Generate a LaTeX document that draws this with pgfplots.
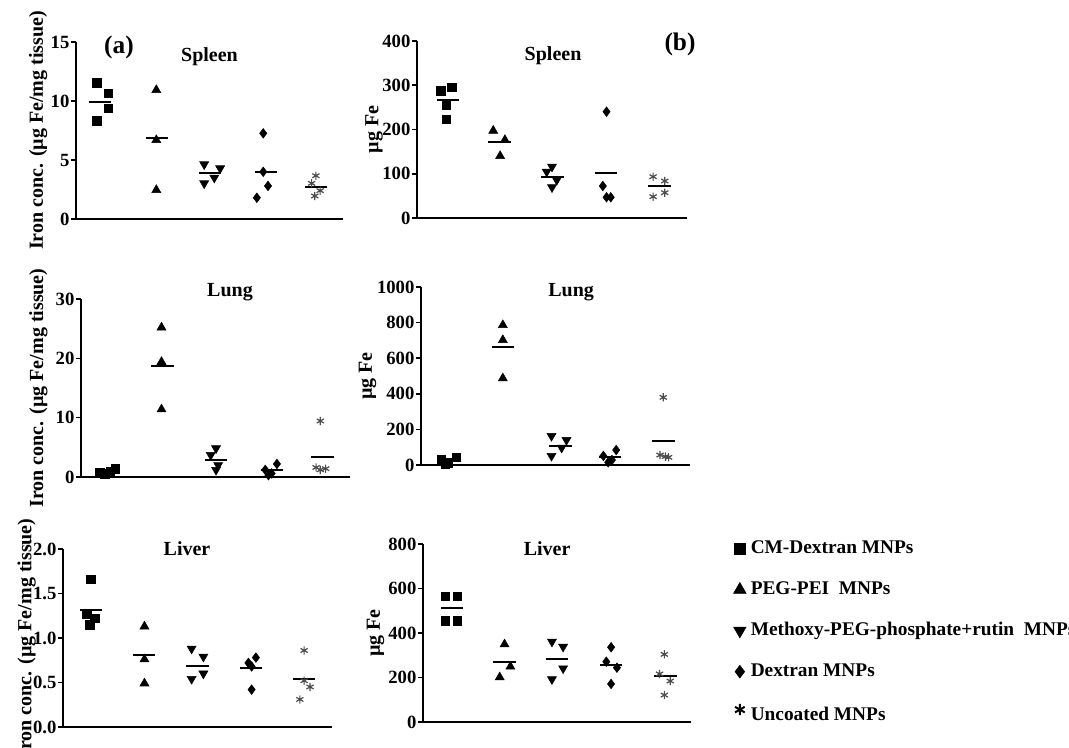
\documentclass[border=0pt]{standalone}
\usepackage{fontspec}
\setmainfont{Liberation Serif}
\usepackage{pgfplots}
\pgfplotsset{compat=1.18}
\pgfplotsset{
  myleg/.style={legend image code/.code={\draw[mark repeat=2,mark phase=2,##1,mark size=#1] plot coordinates {(0cm,0cm)(0.24cm,0cm)(0.48cm,0cm)};}},
  aslegend/.style={legend image code/.code={\draw[mark repeat=2,mark phase=2,##1,black,mark size=4.2pt,mark options={line width=1.5pt}] plot coordinates {(0cm,5pt)(0.24cm,5pt)(0.48cm,5pt)};}},
  sq/.style={only marks, mark=square*, mark size=3.2pt, black, myleg=3.9pt},
  tu/.style={only marks, mark=triangle*, mark size=3.9pt, black, myleg=5.4pt},
  td/.style={only marks, mark=triangle*, mark size=3.9pt, mark options={rotate=180}, black, myleg=5.4pt},
  dm/.style={only marks, mark=diamond*, mark size=3.6pt, black, myleg=4.8pt},
  as/.style={only marks, mark=asterisk, mark size=3.1pt, black!70, mark options={line width=0.9pt}, aslegend},
  mn/.style={black, line width=1.4pt, no marks, forget plot},
  panel/.style={
    scale only axis, clip=false, anchor=south west,
    axis lines=left, axis line style={-, line width=1.6pt},
    xtick=\empty, ytick pos=left, tick align=outside, major tick length=3.75pt,
    tick style={black, line width=1.2pt},
    tick label style={font=\bfseries\fontsize{14}{16}\selectfont},
    yticklabel style={inner xsep=1pt},
    /pgf/number format/assume math mode=true,
    /pgf/number format/1000 sep={},
    ylabel style={font=\bfseries\fontsize{15}{17}\selectfont, anchor=center},
    every axis title shift=0pt,
    title style={font=\bfseries\fontsize{15}{17}\selectfont, anchor=center, yshift=0pt},
    ymin=0,
  },
}
\begin{document}
\begin{tikzpicture}
\path[use as bounding box] (0,0) rectangle (801.75pt,561pt);

% ---------------- Spleen (a)
\begin{axis}[panel, at={(57pt,396.75pt)}, width=200.25pt, height=132.75pt,
  xmin=0.51, xmax=5.53, ymax=15, ytick={0,5,10,15},
  ylabel={Iron conc. (µg Fe/mg tissue)}, ylabel style={at={(axis description cs:-0.142,0.5)}},
  title={Spleen}, title style={at={(axis description cs:0.50,0.915)}, anchor=center}]
\addplot[sq] coordinates {(0.90,11.55)(1.12,10.65)(1.12,9.38)(0.90,8.33)};
\addplot[tu] coordinates {(2.02,10.93)(2.02,6.69)(2.02,2.46)};
\addplot[td] coordinates {(2.92,4.63)(3.22,4.29)(3.11,3.50)(2.92,3.02)};
\addplot[dm] coordinates {(4.03,7.26)(4.03,4.00)(4.12,2.80)(3.91,1.80)};
\addplot[as] coordinates {(5.02,3.67)(4.94,3.02)(5.10,2.40)(5.00,1.95)};
\addplot[mn] coordinates {(0.75,9.94)(1.17,9.94)};
\addplot[mn] coordinates {(1.82,6.84)(2.24,6.84)};
\addplot[mn] coordinates {(2.82,3.87)(3.24,3.87)};
\addplot[mn] coordinates {(3.87,3.96)(4.29,3.96)};
\addplot[mn] coordinates {(4.81,2.74)(5.23,2.74)};
\node[font=\bfseries\fontsize{19}{21}\selectfont] at (axis description cs:0.161,0.972) {(a)};
\end{axis}

% ---------------- Spleen (b)
\begin{axis}[panel, at={(312.75pt,397.5pt)}, width=202.5pt, height=132.75pt,
  xmin=0.45, xmax=5.55, ymax=400, ytick={0,100,200,300,400},
  ylabel={µg Fe}, ylabel style={at={(axis description cs:-0.159,0.5)}},
  title={Spleen}, title style={at={(axis description cs:0.504,0.915)}, anchor=center}]
\addplot[sq] coordinates {(0.90,287.7)(1.11,295.3)(1.00,255.4)(1.00,223)};
\addplot[tu] coordinates {(1.89,197.3)(2.11,176.3)(2.02,140.1)};
\addplot[td] coordinates {(3.00,116)(2.90,104.6)(3.09,85.9)(3.00,69.4)};
\addplot[dm] coordinates {(4.03,240.2)(3.96,72.3)(4.03,46.8)(4.11,46.8)};
\addplot[as] coordinates {(4.91,93.3)(5.13,83.6)(4.91,48.2)(5.13,57.2)};
\addplot[mn] coordinates {(0.82,266.7)(1.24,266.7)};
\addplot[mn] coordinates {(1.80,172.4)(2.22,172.4)};
\addplot[mn] coordinates {(2.80,93.3)(3.22,93.3)};
\addplot[mn] coordinates {(3.81,102.4)(4.23,102.4)};
\addplot[mn] coordinates {(4.82,72.3)(5.24,72.3)};
\node[font=\bfseries\fontsize{19}{21}\selectfont] at (axis description cs:0.974,0.983) {(b)};
\end{axis}

% ---------------- Lung (a)
\begin{axis}[panel, at={(60.75pt,203.25pt)}, width=201.75pt, height=133.5pt,
  xmin=0.48, xmax=5.56, ymax=30, ytick={0,10,20,30},
  ylabel={Iron conc. (µg Fe/mg tissue)}, ylabel style={at={(axis description cs:-0.158,0.5)}},
  title={Lung}, title style={at={(axis description cs:0.554,1.04)}, anchor=center}]
\addplot[sq] coordinates {(0.83,0.7)(0.93,0.5)(1.03,1.0)(1.13,1.4)};
\addplot[tu] coordinates {(2.00,25.2)(2.00,19.4)(2.00,11.4)};
\addplot[td] coordinates {(3.03,4.83)(2.93,3.70)(3.07,2.00)(3.03,1.20)};
\addplot[dm] coordinates {(4.18,2.2)(3.96,1.2)(4.08,0.6)(4.02,0.3)};
\addplot[as] coordinates {(5.00,9.44)(4.92,1.6)(5.00,1.2)(5.10,1.4)};
\addplot[mn] coordinates {(0.77,0.9)(1.19,0.9)};
\addplot[mn] coordinates {(1.81,18.76)(2.23,18.76)};
\addplot[mn] coordinates {(2.82,2.87)(3.24,2.87)};
\addplot[mn] coordinates {(3.87,1.2)(4.29,1.2)};
\addplot[mn] coordinates {(4.83,3.42)(5.25,3.42)};
\end{axis}

% ---------------- Lung (b)
\begin{axis}[panel, at={(315.75pt,212.25pt)}, width=201.75pt, height=133.5pt,
  xmin=0.47, xmax=5.50, ymax=1000, ytick={0,200,400,600,800,1000},
  ylabel={µg Fe}, ylabel style={at={(axis description cs:-0.199,0.5)}},
  title={Lung}, title style={at={(axis description cs:0.558,0.972)}, anchor=center}]
\addplot[sq] coordinates {(0.85,28)(1.13,43)(0.98,13)(0.92,5)};
\addplot[tu] coordinates {(2.00,786)(2.00,702)(2.00,487)};
\addplot[td] coordinates {(2.91,163)(3.19,140)(3.10,97)(2.91,51)};
\addplot[dm] coordinates {(4.12,84)(3.88,51)(4.04,28)(3.97,15)};
\addplot[as] coordinates {(5.00,380)(4.94,56)(5.04,47)(5.10,43)};
\addplot[mn] coordinates {(0.79,22)(1.21,22)};
\addplot[mn] coordinates {(1.79,661)(2.21,661)};
\addplot[mn] coordinates {(2.87,108)(3.29,108)};
\addplot[mn] coordinates {(3.79,43)(4.21,43)};
\addplot[mn] coordinates {(4.79,135)(5.21,135)};
\end{axis}

% ---------------- Liver (a)
\begin{axis}[panel, at={(47.25pt,15.75pt)}, width=201.75pt, height=133.5pt,
  xmin=0.48, xmax=5.50, ymax=2, ytick={0,0.5,1,1.5,2},
  yticklabel style={/pgf/number format/.cd, fixed, fixed zerofill, precision=1},
  ylabel={Iron conc. (µg Fe/mg tissue)}, ylabel style={at={(axis description cs:-0.135,0.5)}},
  title={Liver}, title style={at={(axis description cs:0.461,1.0)}, anchor=center}]
\addplot[sq] coordinates {(1.00,1.66)(0.92,1.27)(1.07,1.22)(0.98,1.15)};
\addplot[tu] coordinates {(2.00,1.13)(2.00,0.76)(2.00,0.49)};
\addplot[td] coordinates {(2.88,0.88)(3.10,0.79)(3.10,0.60)(2.88,0.54)};
\addplot[dm] coordinates {(4.08,0.78)(3.94,0.72)(4.00,0.68)(4.00,0.42)};
\addplot[as] coordinates {(4.98,0.86)(4.98,0.52)(5.09,0.45)(4.90,0.31)};
\addplot[mn] coordinates {(0.79,1.31)(1.21,1.31)};
\addplot[mn] coordinates {(1.78,0.81)(2.20,0.81)};
\addplot[mn] coordinates {(2.78,0.69)(3.20,0.69)};
\addplot[mn] coordinates {(3.78,0.66)(4.20,0.66)};
\addplot[mn] coordinates {(4.77,0.54)(5.19,0.54)};
\end{axis}

% ---------------- Liver (b)
\begin{axis}[panel, at={(317.25pt,19.5pt)}, width=201pt, height=133.5pt,
  xmin=0.47, xmax=5.50, ymax=800, ytick={0,200,400,600,800},
  ylabel={µg Fe}, ylabel style={at={(axis description cs:-0.177,0.5)}},
  title={Liver}, title style={at={(axis description cs:0.463,0.972)}, anchor=center},
  legend cell align=left,
  legend style={at={(axis description cs:1.158,1.024)}, anchor=north west, draw=none, fill=none,
    inner sep=0pt, font=\bfseries\fontsize{14.5}{16}\selectfont, row sep=17.75pt,
    nodes={inner ysep=0pt, inner xsep=3.5pt, text height=10pt, text depth=3pt}}]
\addplot[sq] coordinates {(0.89,566)(1.11,566)(0.89,455)(1.11,455)};
\addlegendentry{CM-Dextran MNPs}
\addplot[tu] coordinates {(2.00,349)(2.11,249)(1.91,201)};
\addlegendentry{PEG-PEI\ \ MNPs}
\addplot[td] coordinates {(2.89,361)(3.10,338)(3.10,241)(2.89,192)};
\addlegendentry{Methoxy-PEG-phosphate+rutin\ \ MNPs}
\addplot[dm] coordinates {(4.00,336)(3.91,271)(4.11,244)(4.00,171)};
\addlegendentry{Dextran MNPs}
\addplot[as] coordinates {(5.00,304)(4.91,216)(5.11,184)(5.00,121)};
\addlegendentry{Uncoated MNPs}
\addplot[mn] coordinates {(0.80,511)(1.22,511)};
\addplot[mn] coordinates {(1.79,271)(2.21,271)};
\addplot[mn] coordinates {(2.78,282)(3.20,282)};
\addplot[mn] coordinates {(3.79,256)(4.21,256)};
\addplot[mn] coordinates {(4.81,208)(5.23,208)};
\end{axis}
\end{tikzpicture}
\end{document}
